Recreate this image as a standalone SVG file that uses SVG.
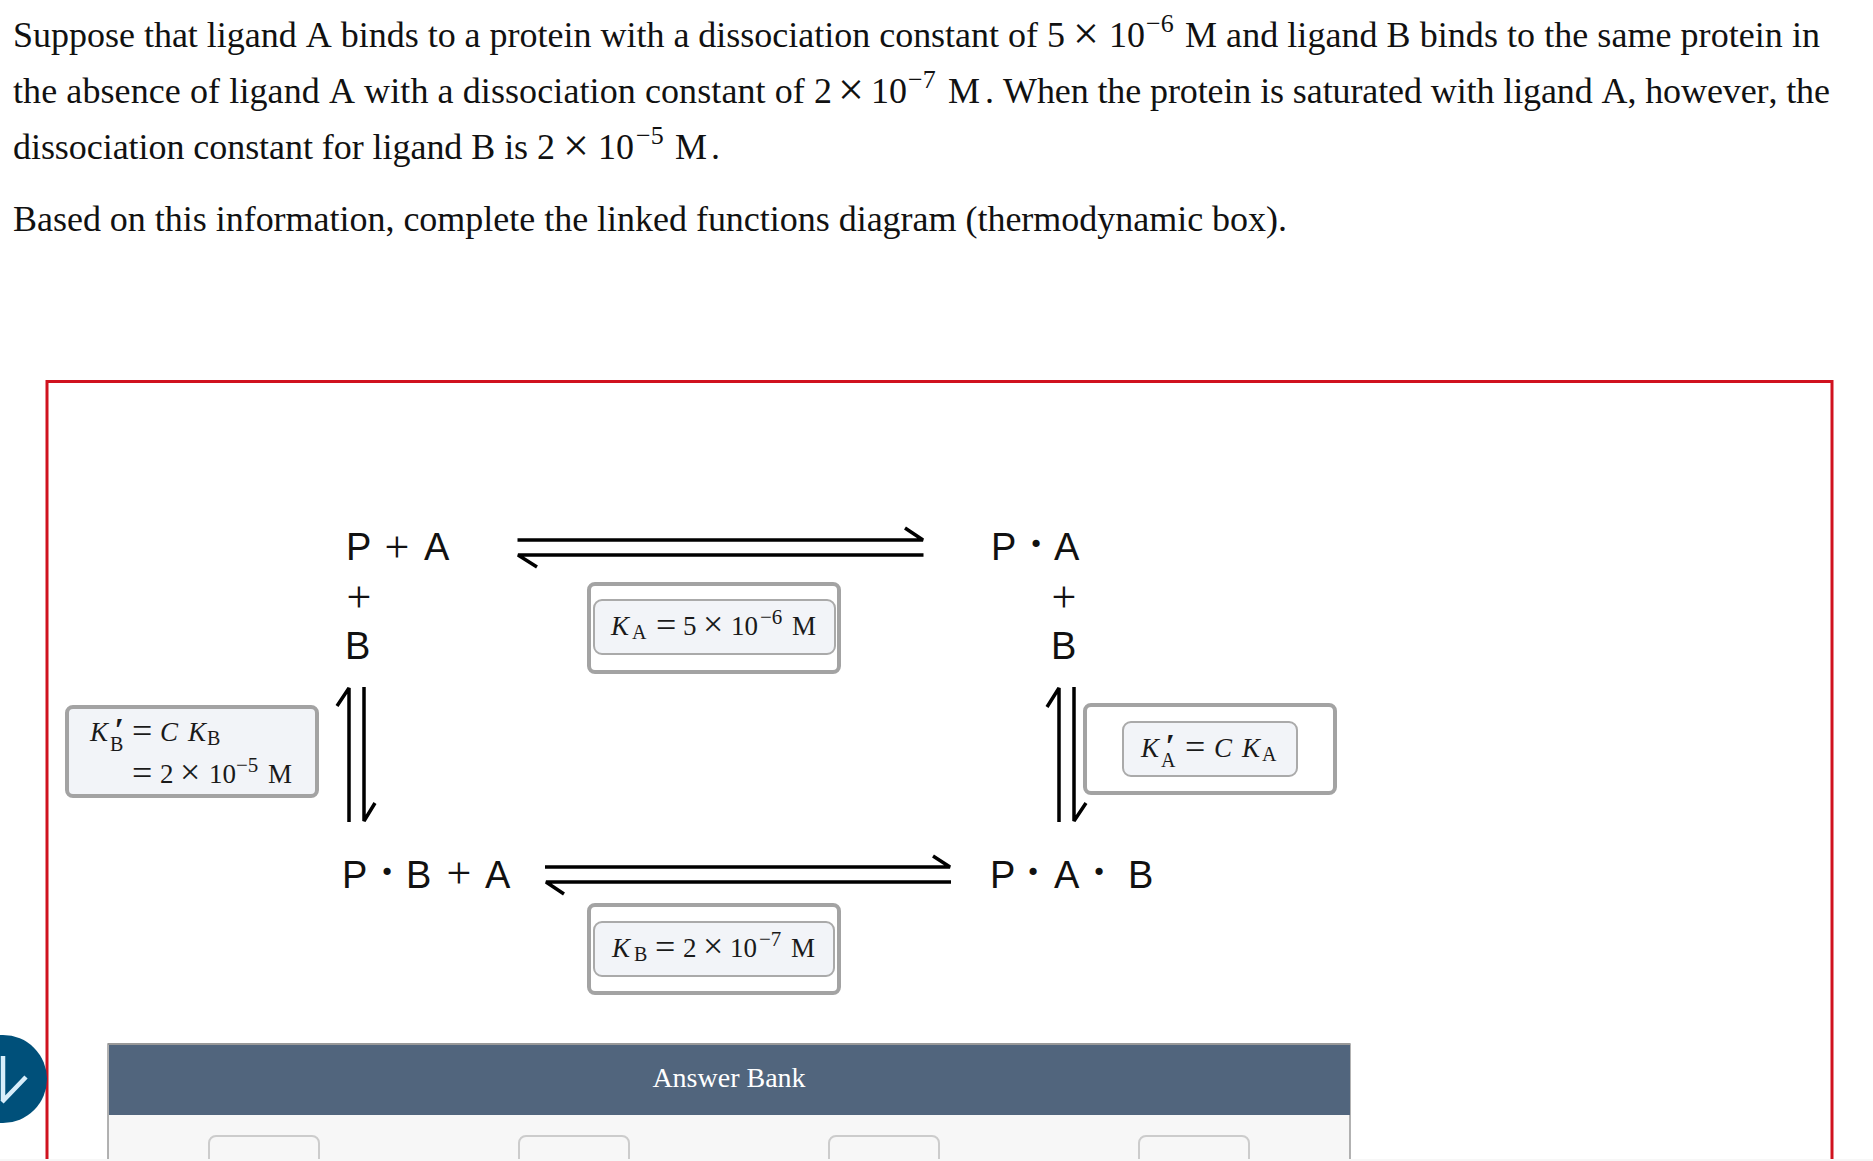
<svg xmlns="http://www.w3.org/2000/svg" width="1873" height="1161" viewBox="0 0 1873 1161">
<style>
.p{font-family:"Liberation Serif","Times New Roman",serif;font-size:36px;fill:#111;font-kerning:none}
.ps{font-family:"Liberation Serif","Times New Roman",serif;font-size:26px;fill:#111}
.px{font-family:"Liberation Serif","Times New Roman",serif;font-size:46px;fill:#111}
.m{font-family:"Liberation Serif","Times New Roman",serif;font-size:27px;fill:#1a1a1a}
.i{font-style:italic}
.sub{font-size:20px}
.sup{font-size:21px}
.big{font-size:36px}
.prime{font-size:34px;font-weight:bold}
.c{font-family:"Liberation Sans",Arial,sans-serif;font-size:38px;fill:#111}
.pl{font-family:"Liberation Serif","Times New Roman",serif;font-size:44px;fill:#111;text-anchor:middle}
.dot{font-family:"Liberation Serif","Times New Roman",serif;font-weight:bold;font-size:44px;fill:#111;text-anchor:middle}
.outer{fill:#fff;stroke:#a3a3a3;stroke-width:4}
.filled{fill:#f2f4f8;stroke:#a3a3a3;stroke-width:4}
.inner{fill:#f2f4f8;stroke:#aaaaaa;stroke-width:2}
.arrow{fill:none;stroke:#000;stroke-width:3.5;stroke-linejoin:bevel}
.slot{fill:none;stroke:#cccccc;stroke-width:2}
</style>
<rect width="1873" height="1161" fill="#fff"/>
<g id="problem-text">
<text class="p" x="13" y="47" textLength="1052">Suppose that ligand A binds to a protein with a dissociation constant of 5</text>
<text class="px" x="1073" y="49">×</text>
<text class="p" x="1109" y="47">10</text>
<text class="ps" x="1146" y="32">−6</text>
<text class="p" x="1185" y="47" textLength="635">M and ligand B binds to the same protein in</text>
<text class="p" x="13" y="103" textLength="819">the absence of ligand A with a dissociation constant of 2</text>
<text class="px" x="838" y="105">×</text>
<text class="p" x="871" y="103">10</text>
<text class="ps" x="908" y="88">−7</text>
<text class="p" x="948" y="103">M</text>
<text class="p" x="985" y="103">.</text>
<text class="p" x="1003" y="103" textLength="827">When the protein is saturated with ligand A, however, the</text>
<text class="p" x="13" y="159" textLength="542">dissociation constant for ligand B is 2</text>
<text class="px" x="563" y="161">×</text>
<text class="p" x="598" y="159">10</text>
<text class="ps" x="636" y="144">−5</text>
<text class="p" x="675" y="159">M</text>
<text class="p" x="711" y="159">.</text>
<text class="p" x="13" y="231" textLength="1274">Based on this information, complete the linked functions diagram (thermodynamic box).</text>
</g>
<rect id="answer-frame" x="47" y="381.500" width="1785" height="790" fill="none" stroke="#d0121f" stroke-width="3"/>
<g id="connectors">
<path class="arrow" d="M517.500 540H923L905 528"/>
<path class="arrow" d="M923.500 555H518L537 567"/>
<path class="arrow" d="M545 867H950L933 856"/>
<path class="arrow" d="M951 882H546L564 894"/>
<path class="arrow" d="M349 822V688L337 706"/>
<path class="arrow" d="M364 687V821L375 803"/>
<path class="arrow" d="M1059 822V688L1047 707"/>
<path class="arrow" d="M1074 687V821L1086 803"/>
</g>
<g id="node-p-a">
<text class="c" x="346" y="560">P</text><text class="pl" x="397" y="562">+</text><text class="c" x="424" y="560">A</text>
<text class="pl" x="359" y="612">+</text>
<text class="c" x="345" y="659">B</text>
</g>
<g id="node-pa">
<text class="c" x="991" y="560">P</text><text class="dot" x="1036" y="558">·</text><text class="c" x="1054" y="560">A</text>
<text class="pl" x="1064" y="612">+</text>
<text class="c" x="1051" y="659">B</text>
</g>
<g id="node-pb-a">
<text class="c" x="342" y="888">P</text><text class="dot" x="387" y="886">·</text><text class="c" x="406" y="888">B</text><text class="pl" x="459" y="888">+</text><text class="c" x="485" y="888">A</text>
</g>
<g id="node-pab">
<text class="c" x="990" y="888">P</text><text class="dot" x="1033" y="886">·</text><text class="c" x="1054" y="888">A</text><text class="dot" x="1099" y="886">·</text><text class="c" x="1128" y="888">B</text>
</g>
<g id="node-ka">
<rect class="outer" x="589" y="584" width="250" height="88" rx="6"/>
<rect class="inner" x="594" y="600" width="241" height="54" rx="8"/>
<text class="m"><tspan class="i" x="611" y="635">K</tspan><tspan class="sub" x="632" y="639">A</tspan><tspan class="big" x="656" y="637">=</tspan><tspan x="683" y="635">5</tspan><tspan class="big" x="703" y="636">×</tspan><tspan x="731" y="635">10</tspan><tspan class="sup" x="760" y="624">−6</tspan><tspan x="792" y="635">M</tspan></text>
</g>
<g id="node-kb-prime">
<rect class="filled" x="67" y="707" width="250" height="89" rx="6"/>
<text class="m"><tspan class="i" x="90" y="741">K</tspan><tspan class="sub" x="110" y="751">B</tspan><tspan class="i prime" x="114" y="741">′</tspan><tspan class="big" x="132" y="743">=</tspan><tspan class="i" x="160" y="741">C</tspan><tspan class="i" x="188" y="741">K</tspan><tspan class="sub" x="207" y="745">B</tspan></text>
<text class="m"><tspan class="big" x="132" y="785">=</tspan><tspan x="160" y="783">2</tspan><tspan class="big" x="180" y="784">×</tspan><tspan x="209" y="783">10</tspan><tspan class="sup" x="236" y="772">−5</tspan><tspan x="268" y="783">M</tspan></text>
</g>
<g id="node-ka-prime">
<rect class="outer" x="1085" y="705" width="250" height="88" rx="6"/>
<rect class="inner" x="1123" y="722" width="174" height="54" rx="8"/>
<text class="m"><tspan class="i" x="1141" y="757">K</tspan><tspan class="sub" x="1161" y="767">A</tspan><tspan class="i prime" x="1165" y="757">′</tspan><tspan class="big" x="1185" y="759">=</tspan><tspan class="i" x="1214" y="757">C</tspan><tspan class="i" x="1242" y="757">K</tspan><tspan class="sub" x="1262" y="761">A</tspan></text>
</g>
<g id="node-kb">
<rect class="outer" x="589" y="905" width="250" height="88" rx="6"/>
<rect class="inner" x="594" y="922" width="240" height="54" rx="8"/>
<text class="m"><tspan class="i" x="612" y="957">K</tspan><tspan class="sub" x="634" y="961">B</tspan><tspan class="big" x="655" y="959">=</tspan><tspan x="683" y="957">2</tspan><tspan class="big" x="703" y="958">×</tspan><tspan x="730" y="957">10</tspan><tspan class="sup" x="759" y="946">−7</tspan><tspan x="791" y="957">M</tspan></text>
</g>
<g id="scroll-button">
<circle cx="3" cy="1079" r="44" fill="#00507a"/>
<path d="M3 1056V1100M2 1102L26 1077" fill="none" stroke="#d8eefb" stroke-width="4.500"/>
</g>
<g id="answer-bank">
<rect x="108" y="1044" width="1242" height="130" fill="#f7f7f7" stroke="#999" stroke-width="1.500"/>
<rect x="108" y="1043" width="1242" height="2" fill="#999"/>
<rect x="109" y="1045" width="1241" height="70" fill="#51657d"/>
<text x="729" y="1087" text-anchor="middle" font-family="Liberation Serif, Times New Roman, serif" font-size="28" fill="#fff">Answer Bank</text>
<rect class="slot" x="209" y="1136" width="110" height="50" rx="7"/>
<rect class="slot" x="519" y="1136" width="110" height="50" rx="7"/>
<rect class="slot" x="829" y="1136" width="110" height="50" rx="7"/>
<rect class="slot" x="1139" y="1136" width="110" height="50" rx="7"/>
</g>
<rect id="bottom-strip" x="0" y="1159" width="1873" height="2" fill="#f7f7f7"/>
</svg>
